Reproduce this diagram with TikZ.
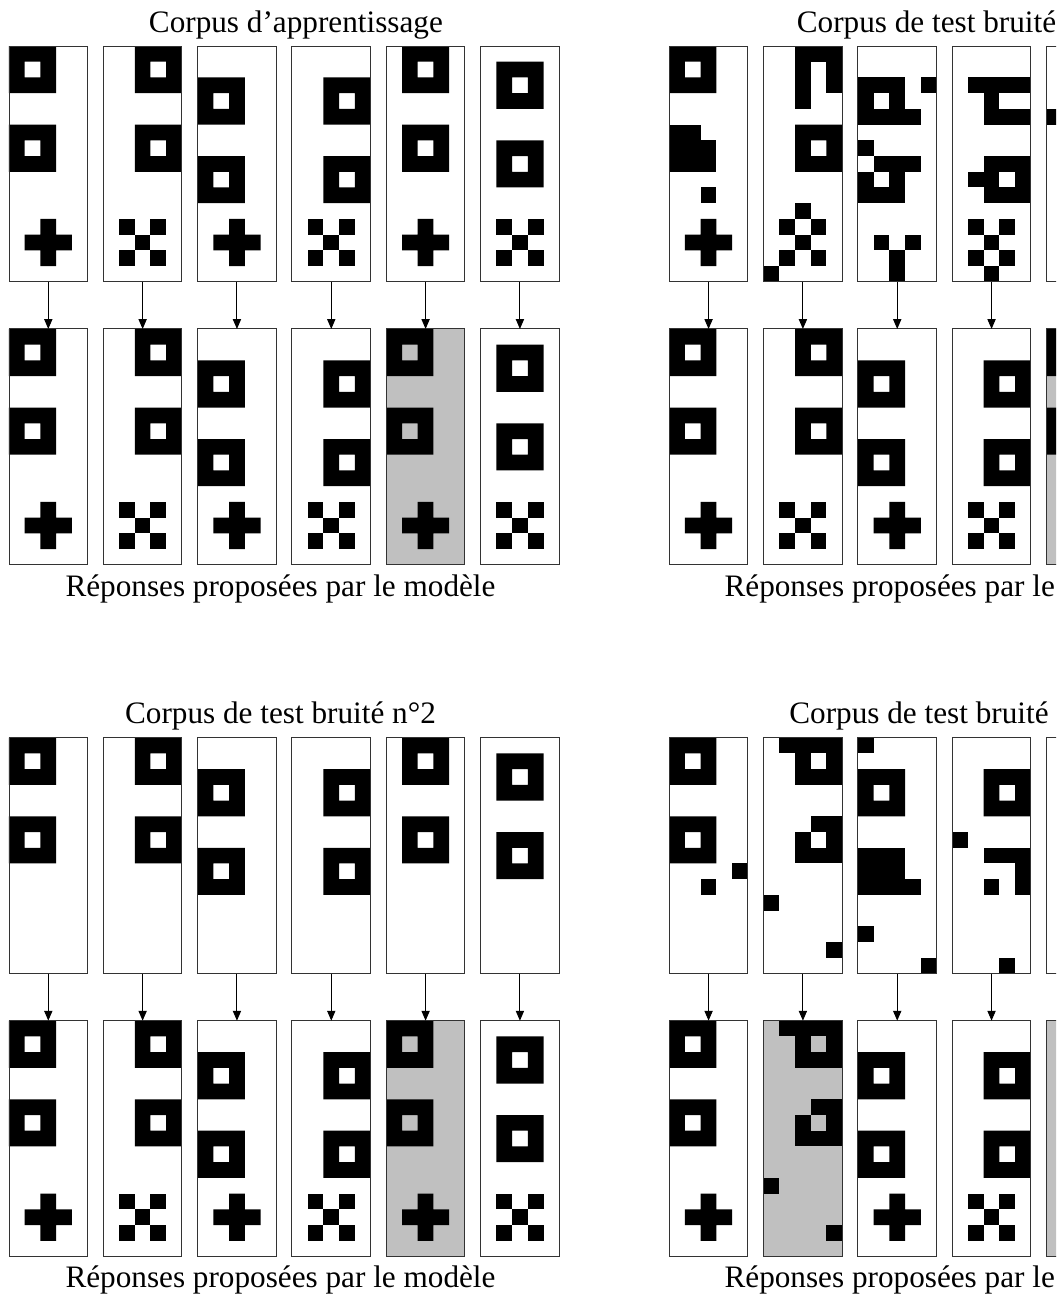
\documentclass[tikz,border=0pt]{standalone}
\usepackage{fontspec}
\setmainfont{Liberation Serif}
\usetikzlibrary{arrows.meta}
\definecolor{errgray}{HTML}{C0C0C0}
\tikzset{
  cellc/.style={fill=black},
  box/.style={draw=black!80, line width=0.7pt, minimum width=2cm, minimum height=6cm, inner sep=0pt, outer sep=0pt},
  arr/.style={draw=black, line width=0.7pt, -{Triangle[length=7.2pt,width=6pt]}},
  lbl/.style={font=\fontsize{22.6pt}{27pt}\selectfont, inner sep=0pt, anchor=base},
}
\newcommand\gpx[2]{\fill[cellc] ({#1},{-(#2)}) rectangle ++(1,-1);}
\newcommand\gsq[2]{\fill[cellc,even odd rule] ({#1},{-(#2)}) rectangle ++(3,-3) ({#1+1},{-(#2)-1}) rectangle ++(1,-1);}
\newcommand\gpl[2]{\fill[cellc] ({#1+1},{-(#2)}) rectangle ++(1,-3) ({#1},{-(#2)-1}) rectangle ++(3,-1);}
\newcommand\gxx[2]{\gpx{#1}{#2}\gpx{#1+2}{#2}\gpx{#1+1}{#2+1}\gpx{#1}{#2+2}\gpx{#1+2}{#2+2}}
\newcommand\gpts[1]{\foreach \a/\b in {#1}{\gpx{\a}{\b}}}
\newcommand\grid[5]{\begin{scope}[shift={(#2,#3)}]\fill[#4] (0,0) rectangle (5,-15);#5\node[box,anchor=north west] (#1) at (0,0) {};\end{scope}}
% training patterns
\newcommand\pA{\gsq{0}{0}\gsq{0}{5}}
\newcommand\pB{\gsq{2}{0}\gsq{2}{5}}
\newcommand\pC{\gsq{0}{2}\gsq{0}{7}}
\newcommand\pD{\gsq{2}{2}\gsq{2}{7}}
\newcommand\pE{\gsq{1}{0}\gsq{1}{5}}
\newcommand\pF{\gsq{1}{1}\gsq{1}{6}}
\begin{document}
\begin{tikzpicture}[x=0.4cm,y=0.4cm]
\useasboundingbox (-0.5725,2.926) rectangle (66.60,-79.64);
\clip (-0.5725,2.926) rectangle (66.60,-79.64);
% ---------- top-left: training corpus ----------
\grid{tli1}{0}{0}{white}{\pA\gpl{1}{11}}
\grid{tli2}{6}{0}{white}{\pB\gxx{1}{11}}
\grid{tli3}{12}{0}{white}{\pC\gpl{1}{11}}
\grid{tli4}{18}{0}{white}{\pD\gxx{1}{11}}
\grid{tli5}{24}{0}{white}{\pE\gpl{1}{11}}
\grid{tli6}{30}{0}{white}{\pF\gxx{1}{11}}
\grid{tlo1}{0}{-18}{white}{\pA\gpl{1}{11}}
\grid{tlo2}{6}{-18}{white}{\pB\gxx{1}{11}}
\grid{tlo3}{12}{-18}{white}{\pC\gpl{1}{11}}
\grid{tlo4}{18}{-18}{white}{\pD\gxx{1}{11}}
\grid{tlo5}{24}{-18}{errgray}{\pA\gpl{1}{11}}
\grid{tlo6}{30}{-18}{white}{\pF\gxx{1}{11}}
\foreach \i in {1,...,6} \draw[arr] (tli\i.south) -- (tlo\i.north);
% ---------- top-right: noisy corpus 1 ----------
\grid{tri1}{42}{0}{white}{\gsq{0}{0}\gpts{0/5,1/5,0/6,1/6,2/6,0/7,1/7,2/7,2/9}\gpl{1}{11}}
\grid{tri2}{48}{0}{white}{\gpts{2/0,3/0,4/0,2/1,4/1,2/2,4/2,2/3}\gsq{2}{5}\gpts{2/10,1/11,3/11,2/12,1/13,3/13,0/14}}
\grid{tri3}{54}{0}{white}{\gpts{0/2,1/2,2/2,4/2,0/3,2/3,0/4,1/4,2/4,3/4,0/6,1/7,2/7,3/7,0/8,2/8,0/9,1/9,2/9,1/12,3/12,2/13,2/14}}
\grid{tri4}{60}{0}{white}{\gpts{1/2,2/2,3/2,4/2,2/3,2/4,3/4,4/4,2/7,3/7,4/7,1/8,2/8,4/8,2/9,3/9,4/9,1/11,3/11,2/12,1/13,3/13,2/14}}
\grid{tri5}{66}{0}{white}{\gpx{0}{4}}
\grid{tro1}{42}{-18}{white}{\pA\gpl{1}{11}}
\grid{tro2}{48}{-18}{white}{\pB\gxx{1}{11}}
\grid{tro3}{54}{-18}{white}{\pC\gpl{1}{11}}
\grid{tro4}{60}{-18}{white}{\pD\gxx{1}{11}}
\grid{tro5}{66}{-18}{errgray}{\pA\gpl{1}{11}}
\foreach \i in {1,...,4} \draw[arr] (tri\i.south) -- (tro\i.north);
% ---------- bottom-left: noisy corpus 2 ----------
\grid{bli1}{0}{-44}{white}{\pA}
\grid{bli2}{6}{-44}{white}{\pB}
\grid{bli3}{12}{-44}{white}{\pC}
\grid{bli4}{18}{-44}{white}{\pD}
\grid{bli5}{24}{-44}{white}{\pE}
\grid{bli6}{30}{-44}{white}{\pF}
\grid{blo1}{0}{-62}{white}{\pA\gpl{1}{11}}
\grid{blo2}{6}{-62}{white}{\pB\gxx{1}{11}}
\grid{blo3}{12}{-62}{white}{\pC\gpl{1}{11}}
\grid{blo4}{18}{-62}{white}{\pD\gxx{1}{11}}
\grid{blo5}{24}{-62}{errgray}{\pA\gpl{1}{11}}
\grid{blo6}{30}{-62}{white}{\pF\gxx{1}{11}}
\foreach \i in {1,...,6} \draw[arr] (bli\i.south) -- (blo\i.north);
% ---------- bottom-right: noisy corpus 3 ----------
\grid{bri1}{42}{-44}{white}{\pA\gpts{4/8,2/9}}
\grid{bri2}{48}{-44}{white}{\gpts{1/0,2/0,3/0,4/0,2/1,4/1,2/2,3/2,4/2,3/5,4/5,2/6,4/6,2/7,3/7,4/7,0/10,4/13}}
\grid{bri3}{54}{-44}{white}{\gpx{0}{0}\gsq{0}{2}\gpts{0/7,1/7,2/7,0/8,1/8,2/8,0/9,1/9,2/9,3/9,0/12,4/14}}
\grid{bri4}{60}{-44}{white}{\gsq{2}{2}\gpts{0/6,2/7,3/7,4/7,4/8,2/9,4/9,3/14}}
\grid{bri5}{66}{-44}{white}{}
\grid{bro1}{42}{-62}{white}{\pA\gpl{1}{11}}
\grid{bro2}{48}{-62}{errgray}{\gpts{1/0,2/0,3/0,4/0,2/1,4/1,2/2,3/2,4/2,3/5,4/5,2/6,4/6,2/7,3/7,4/7,0/10,4/13}}
\grid{bro3}{54}{-62}{white}{\pC\gpl{1}{11}}
\grid{bro4}{60}{-62}{white}{\pD\gxx{1}{11}}
\grid{bro5}{66}{-62}{errgray}{}
\foreach \i in {1,...,4} \draw[arr] (bri\i.south) -- (bro\i.north);
% ---------- labels ----------
\node[lbl] (t1) at (18.25,0.89) {Corpus d’apprentissage};
\node[lbl] (c1) at (17.27,-35.0) {Réponses proposées par le modèle};
\node[lbl,anchor=base west] (t2) at (50.1,0.89) {Corpus de test bruité};
\node[lbl,anchor=base west] (c2) at (45.5,-35.0) {Réponses proposées par le};
\node[lbl] (t3) at (17.27,-43.11) {Corpus de test bruité n°2};
\node[lbl] (c3) at (17.27,-79.0) {Réponses proposées par le modèle};
\node[lbl,anchor=base west] (t4) at (49.62,-43.11) {Corpus de test bruité};
\node[lbl,anchor=base west] (c4) at (45.5,-79.0) {Réponses proposées par le};
\end{tikzpicture}
\end{document}
